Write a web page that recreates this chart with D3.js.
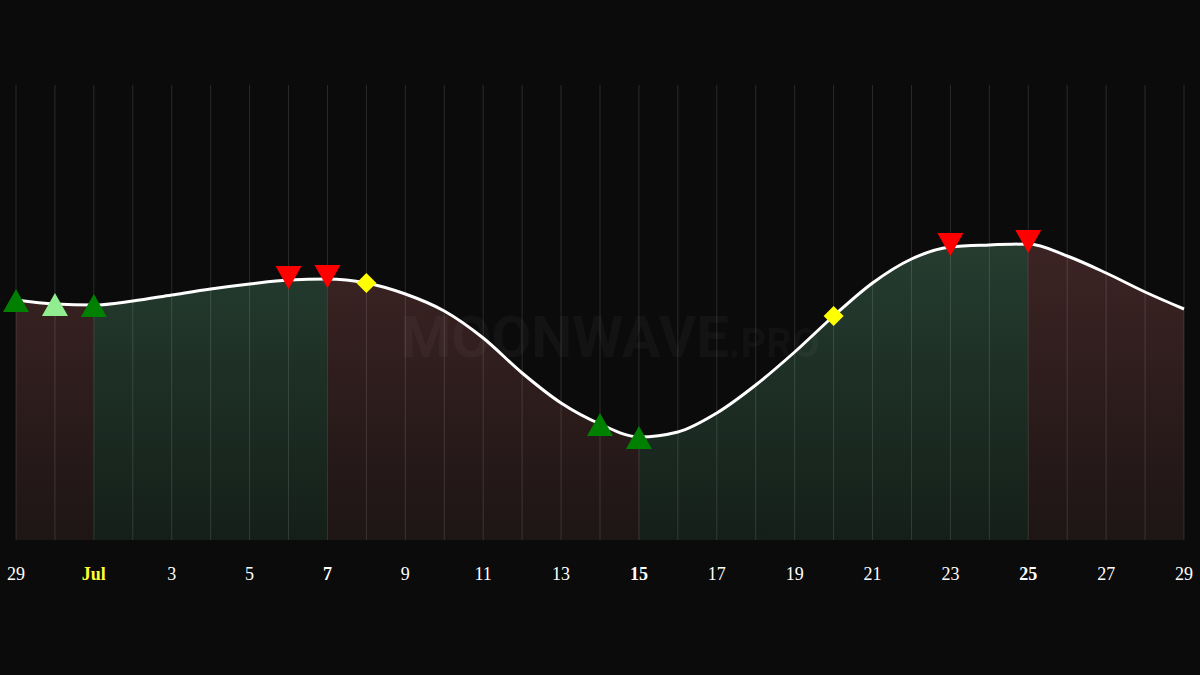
<!DOCTYPE html><html><head><meta charset="utf-8">
<script src="https://cdn.jsdelivr.net/npm/d3@7"></script>
<style>body{margin:0;background:#0b0b0b}</style></head><body><svg id="c" width="1200" height="675"></svg>
<script>
const days=d3.range(0,31);
const values=[240,236,235,239,245,251,256,260,261,257,246,229,202,167,137,116,103,108,127,155,188,224,257,281,293,295,296,284,267,248,231];
const tickLabels=["29","Jul","3","5","7","9","11","13","15","17","19","21","23","25","27","29"];
const boldLabels=["Jul","7","15","25"];
const segments=[[0,2,"r"],[2,8,"g"],[8,16,"r"],[16,26,"g"],[26,30,"r"]];
const markers=[[0,"up","#008000"],[1,"up","#90ee90"],[2,"up","#008000"],[7,"down","#ff0000"],[8,"down","#ff0000"],[9,"dia","#ffff00"],[15,"up","#008000"],[16,"up","#008000"],[21,"dia","#ffff00"],[24,"down","#ff0000"],[26,"down","#ff0000"]];
const svg=d3.select("#c");
svg.append("rect").attr("width",1200).attr("height",675).attr("fill","#0b0b0b");
const x=d3.scaleLinear().domain([0,30]).range([16,1184]);
const y=d3.scaleLinear().domain([0,455]).range([540,85]);
const defs=svg.append("defs");
[["g","#263d30","#141f19"],["r","#3d2424","#1e1515"]].forEach(([id,a,b])=>{
 const lg=defs.append("linearGradient").attr("id","gr"+id).attr("x1",0).attr("x2",0).attr("y1",0).attr("y2",1);
 lg.append("stop").attr("offset",0).attr("stop-color",a);lg.append("stop").attr("offset",1).attr("stop-color",b);});
const curve=d3.curveMonotoneX;
const area=d3.area().x(d=>x(d)).y0(y(0)).y1(d=>y(values[d])).curve(curve);
const fullArea=defs.append("clipPath").attr("id","ca");
fullArea.append("path").attr("d",area(days));
segments.forEach(([a,b,c])=>{
 svg.append("rect").attr("x",x(a)).attr("width",x(b)-x(a)).attr("y",y(300)).attr("height",y(0)-y(300))
 .attr("fill","url(#gr"+c+")").attr("clip-path","url(#ca)");});
days.forEach(d=>svg.append("line").attr("x1",x(d)).attr("x2",x(d)).attr("y1",85).attr("y2",540).attr("stroke","#ffffff").attr("stroke-opacity",0.13).attr("stroke-width",1));
const wm=svg.append("text").attr("x",610).attr("y",357).attr("text-anchor","middle").attr("font-family","Roboto, sans-serif").attr("font-weight","bold").attr("fill","#ffffff").attr("fill-opacity",0.035);
wm.append("tspan").attr("font-size",58).text("MOONWAVE");
wm.append("tspan").attr("font-size",40).text(".PRO");
svg.append("path").attr("d",d3.line().x(d=>x(d)).y(d=>y(values[d])).curve(curve)(days)).attr("fill","none").attr("stroke","#fff").attr("stroke-width",3);
markers.forEach(([d,t,c])=>{
 const px=x(d),py=y(values[d]);let p;
 if(t==="up"){const cy=py+2;p=`M${px},${cy-13}L${px+13},${cy+10}L${px-13},${cy+10}Z`;}
 else if(t==="down"){const cy=py-2;p=`M${px-13},${cy-12}L${px+13},${cy-12}L${px},${cy+11}Z`;}
 else p=`M${px},${py-10}L${px+10},${py}L${px},${py+10}L${px-10},${py}Z`;
 svg.append("path").attr("d",p).attr("fill",c);});
tickLabels.forEach((t,i)=>svg.append("text").attr("x",x(i*2)).attr("y",580).attr("text-anchor","middle")
 .attr("font-family","Liberation Serif, serif").attr("font-size",18).attr("font-weight",boldLabels.includes(t)?"bold":"normal")
 .attr("fill",t==="Jul"?"#ffff33":"#ffffff").text(t));
</script></body></html>
